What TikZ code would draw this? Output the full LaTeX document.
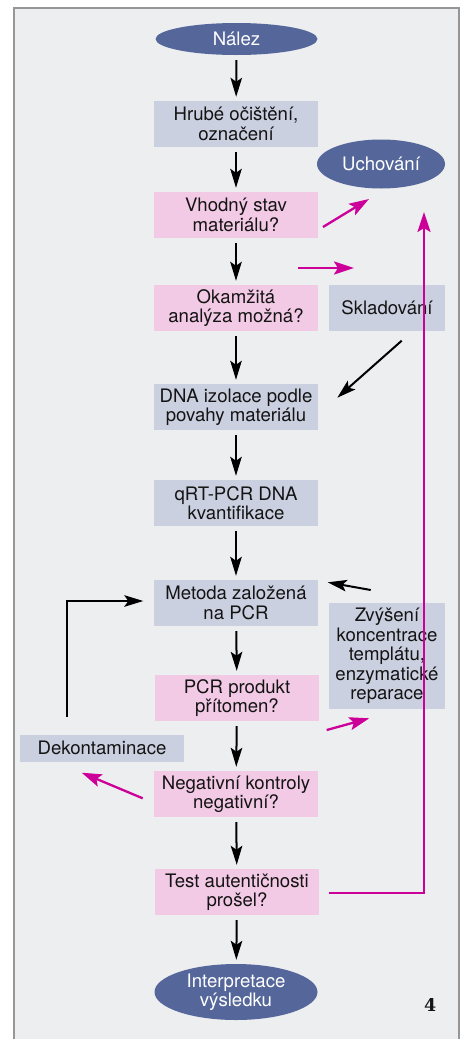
\documentclass[tikz,border=0pt]{standalone}
\usepackage{fontspec}
\setmainfont{TeX Gyre Heros}
\newfontfamily\numfont{DejaVu Serif}
\usetikzlibrary{shapes.geometric,arrows.meta,calc}
\definecolor{bgc}{RGB}{237,238,240}
\definecolor{framec}{RGB}{150,150,150}
\definecolor{ellc}{RGB}{85,103,154}
\definecolor{gboxc}{RGB}{203,208,224}
\definecolor{pboxc}{RGB}{243,202,229}
\definecolor{magc}{RGB}{204,0,153}
\definecolor{txtc}{RGB}{20,20,20}
\tikzset{
  txtfont/.style={font=\fontsize{18.6}{19.5}\selectfont},
  term/.style={ellipse, fill=ellc, text=white, inner sep=0pt, align=center, txtfont},
  gb/.style={rectangle, fill=gboxc, text=txtc, inner sep=0pt, minimum width=164pt, minimum height=46pt, align=center, txtfont},
  pb/.style={gb, fill=pboxc},
  arr/.style={-{Stealth[length=19pt,width=11.5pt,inset=4pt]}, line width=2pt, black},
  marr/.style={-{Stealth[length=20pt,width=13pt,inset=4pt]}, line width=2.3pt, magc},
  vflow/.style={arr, shorten <=5pt, shorten >=4pt},
}
\begin{document}
\begin{tikzpicture}[x=1pt,y=-1pt]
\useasboundingbox (0,0) rectangle (463,1039);
\fill[white] (0,0) rectangle (463,1039);
\fill[bgc] (14,8) rectangle (459,1045);
\draw[framec, line width=1.2pt] (14,1045) -- (14,8) -- (459,8) -- (459,1045);

\node[term, minimum width=162pt, minimum height=32pt] (nalez) at (236.5,39) {Nález};
\node[gb] (hrube) at (236,124) {Hrubé očištění,\\označení};
\node[term, minimum width=128pt, minimum height=49pt] (uchovani) at (381,164) {Uchování};
\node[pb] (vhodny) at (236,215) {Vhodný stav\\materiálu?};
\node[pb] (okamzita) at (236,308) {Okamžitá\\analýza možná?};
\node[gb, minimum width=116pt] (sklad) at (387,308) {Skladování};
\node[gb] (dna) at (236,407) {DNA izolace podle\\povahy materiálu};
\node[gb] (qrt) at (236,503) {qRT-PCR DNA\\kvantifikace};
\node[gb] (metoda) at (236,603) {Metoda založená\\na PCR};
\node[gb, minimum width=116pt, minimum height=106pt] (zvyseni) at (387,656) {Zvýšení\\koncentrace\\templátu,\\enzymatické\\reparace};
\node[pb] (pcr) at (237,698) {PCR produkt\\přítomen?};
\node[gb, minimum height=27pt] (dekont) at (102,748) {Dekontaminace};
\node[pb] (neg) at (236,794) {Negativní kontroly\\negativní?};
\node[pb] (test) at (237,892) {Test autentičnosti\\prošel?};
\node[term, minimum width=163pt, minimum height=56pt] (interp) at (236,992) {Interpretace\\výsledku};
\node[font=\numfont\bfseries\fontsize{17.5}{18}\selectfont, text=txtc] (four) at (430.3,1005) {4};

% main vertical flow
\draw[vflow] (nalez) -- (hrube);
\draw[vflow] (hrube) -- (vhodny);
\draw[vflow] (vhodny) -- (okamzita);
\draw[vflow] (okamzita) -- (dna);
\draw[vflow] (dna) -- (qrt);
\draw[vflow] (qrt) -- (metoda);
\draw[vflow] (metoda) -- (pcr);
\draw[vflow] (pcr) -- (neg);
\draw[vflow] (neg) -- (test);
\draw[vflow] (test) -- (interp);

% side connectors
\coordinate (s1) at (401.7,340.7);
\coordinate (s2) at (337.3,397.7);
\draw[arr] (s1) -- (s2);
\coordinate (z1) at (370.7,590);
\coordinate (z2) at (327.7,582.3);
\draw[arr] (z1) -- (z2);
\coordinate (d1) at (67,716.7);
\coordinate (d2) at (67,601);
\coordinate (d3) at (143.3,601);
\draw[arr] (d1) -- (d2) -- (d3);

\coordinate (m1a) at (323,227);
\coordinate (m1b) at (369,199);
\draw[marr] (m1a) -- (m1b);
\coordinate (m2a) at (298,268);
\coordinate (m2b) at (354,268);
\draw[marr] (m2a) -- (m2b);
\coordinate (m3a) at (326.7,730);
\coordinate (m3b) at (369.3,718.3);
\draw[marr] (m3a) -- (m3b);
\coordinate (m4a) at (142.7,798.3);
\coordinate (m4b) at (81.7,772.7);
\draw[marr] (m4a) -- (m4b);
\coordinate (m5a) at (329,893.3);
\coordinate (m5b) at (424,893.3);
\coordinate (m5c) at (424,212);
\draw[marr] (m5a) -- (m5b) -- (m5c);
\end{tikzpicture}
\end{document}
